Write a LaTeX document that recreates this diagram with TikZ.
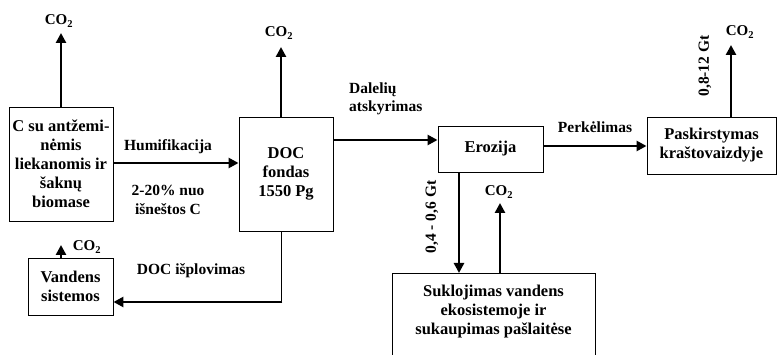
\documentclass[tikz,border=0pt]{standalone}
\usepackage{fontspec}
\setmainfont{Liberation Serif}
\usetikzlibrary{arrows.meta}
\tikzset{
  box/.style={draw, line width=0.9pt, align=center, inner sep=2pt,
    font=\fontsize{16.5}{19}\selectfont\bfseries},
  lbl/.style={align=center, inner sep=0pt, font=\fontsize{15.5}{18.5}\selectfont\bfseries},
  co/.style={inner sep=0pt, font=\fontsize{15}{18}\selectfont\bfseries},
  arr/.style={line width=2.6pt, -{Triangle[length=10pt,width=10pt]}},
  thinline/.style={line width=1pt}
}
\newcommand{\cotwo}{CO\textsubscript{2}}
\begin{document}
\begin{tikzpicture}[x=1pt,y=-1pt]
\useasboundingbox (0,0) rectangle (777,355);
\clip (0,0) rectangle (777,355);

% boxes
\node[box, minimum width=104pt, minimum height=114pt] (A) at (61,164)
  {C su antžemi-\\nėmis\\liekanomis ir\\šaknų\\biomase};
\node[box, minimum width=85pt, minimum height=57pt] (V) at (70.5,286.5)
  {Vandens\\sistemos};
\node[box, minimum width=94pt, minimum height=114pt] (D) at (286,174)
  {DOC\\fondas\\1550 Pg};
\node[box, minimum width=105pt, minimum height=46pt] (E) at (490.5,149)
  {Erozija};
\node[box, minimum width=129pt, minimum height=57pt] (P) at (711.5,145.5)
  {Paskirstymas\\kraštovaizdyje};
\node[box, minimum width=203pt, minimum height=90pt, anchor=north] (S) at (493.5,273) {};
\node[box, draw=none] (St) at (493.5,312)
  {Suklojimas vandens\\ekosistemoje ir\\sukaupimas pašlaitėse};

% CO2 outlets
\node[co] (cA) at (59,21) {\cotwo};
\node[co] (cV) at (87,247) {\cotwo};
\node[co] (cD) at (279,33) {\cotwo};
\node[co] (cS) at (499,192) {\cotwo};
\node[co] (cP) at (740,32) {\cotwo};

\draw[arr] (A.north) -- (A.north |- 0,33);
\draw[arr] (61,0 |- V.north) -- (61,245);
\draw[arr] (281,0 |- D.north) -- (281,47);
\draw[arr] (731,0 |- P.north) -- (731,45);

% carbon flows
\draw[arr] (A.east |- 0,163) -- (D.west |- 0,163);
\node[lbl] (hum) at (168,147) {Humifikacija};
\node[lbl] (pct) at (168,200) {2-20\% nuo\\išneštos C};

\draw[thinline] (281,0 |- D.south) -- (281,302) coordinate (bend);
\draw[arr] ([xshift=1.3pt]bend) -- (V.east |- bend);
\node[lbl] (lea) at (191,271) {DOC išplovimas};

\draw[arr] (D.east |- 0,140) -- (E.west |- 0,140);
\node[lbl, align=left, anchor=west] (det) at (349,99) {Dalelių\\atskyrimas};

\draw[arr] (E.east |- 0,146) -- (P.west |- 0,146);
\node[lbl] (trn) at (595,127) {Perkėlimas};

\draw[arr] (459,0 |- E.south) -- (459,0 |- S.north);
\draw[arr] (500,0 |- S.north) -- (500,203);
\node[lbl, rotate=90] (dep) at (432,217) {0,4 - 0,6 Gt};
\node[lbl, rotate=90] (emi) at (705,66) {0,8-12 Gt};
\end{tikzpicture}
\end{document}
